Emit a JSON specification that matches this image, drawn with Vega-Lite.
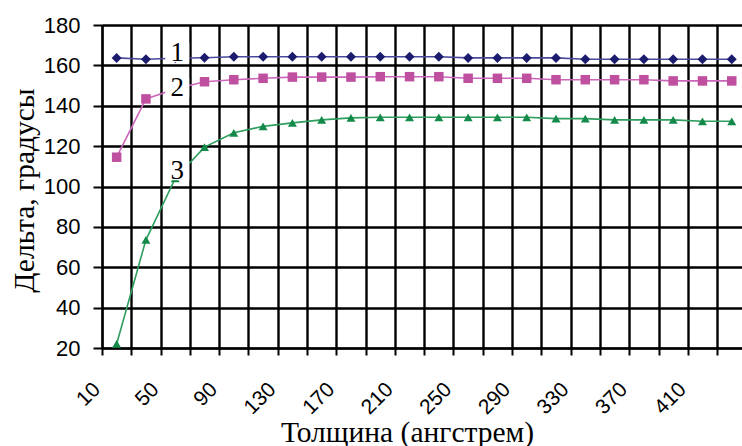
{
  "$schema": "https://vega.github.io/schema/vega-lite/v6.json",
  "width": 640,
  "height": 323,
  "autosize": "none",
  "padding": {"left": 102, "top": 25, "right": 0, "bottom": 98},
  "background": "white",
  "config": {"view": {"stroke": null}, "axis": {"gridOpacity": 1, "gridWidth": 2.4, "gridColor": "#000"}},
  "datasets": {
    "series": [
      {"s": "1", "x": 10, "v": 163.7}, {"s": "1", "x": 30, "v": 163.0}, {"s": "1", "x": 50, "v": 163.5},
      {"s": "1", "x": 70, "v": 163.8}, {"s": "1", "x": 90, "v": 164.3}, {"s": "1", "x": 110, "v": 164.3},
      {"s": "1", "x": 130, "v": 164.3}, {"s": "1", "x": 150, "v": 164.3}, {"s": "1", "x": 170, "v": 164.3},
      {"s": "1", "x": 190, "v": 164.3}, {"s": "1", "x": 210, "v": 164.3}, {"s": "1", "x": 230, "v": 164.3},
      {"s": "1", "x": 250, "v": 163.7}, {"s": "1", "x": 270, "v": 163.7}, {"s": "1", "x": 290, "v": 163.7},
      {"s": "1", "x": 310, "v": 163.7}, {"s": "1", "x": 330, "v": 163.0}, {"s": "1", "x": 350, "v": 163.0},
      {"s": "1", "x": 370, "v": 163.0}, {"s": "1", "x": 390, "v": 163.0}, {"s": "1", "x": 410, "v": 163.0},
      {"s": "1", "x": 430, "v": 163.0},
      {"s": "2", "x": 10, "v": 114.5}, {"s": "2", "x": 30, "v": 143.4}, {"s": "2", "x": 50, "v": 148.3},
      {"s": "2", "x": 70, "v": 151.9}, {"s": "2", "x": 90, "v": 152.9}, {"s": "2", "x": 110, "v": 153.6},
      {"s": "2", "x": 130, "v": 154.2}, {"s": "2", "x": 150, "v": 154.2}, {"s": "2", "x": 170, "v": 154.2},
      {"s": "2", "x": 190, "v": 154.4}, {"s": "2", "x": 210, "v": 154.4}, {"s": "2", "x": 230, "v": 154.4},
      {"s": "2", "x": 250, "v": 153.6}, {"s": "2", "x": 270, "v": 153.6}, {"s": "2", "x": 290, "v": 153.6},
      {"s": "2", "x": 310, "v": 152.9}, {"s": "2", "x": 330, "v": 152.9}, {"s": "2", "x": 350, "v": 152.9},
      {"s": "2", "x": 370, "v": 152.9}, {"s": "2", "x": 390, "v": 152.3}, {"s": "2", "x": 410, "v": 152.3},
      {"s": "2", "x": 430, "v": 152.3},
      {"s": "3", "x": 10, "v": 22.0}, {"s": "3", "x": 30, "v": 73.6}, {"s": "3", "x": 50, "v": 104.0},
      {"s": "3", "x": 70, "v": 119.5}, {"s": "3", "x": 90, "v": 126.6}, {"s": "3", "x": 110, "v": 129.8},
      {"s": "3", "x": 130, "v": 131.5}, {"s": "3", "x": 150, "v": 133.0}, {"s": "3", "x": 170, "v": 134.0},
      {"s": "3", "x": 190, "v": 134.3}, {"s": "3", "x": 210, "v": 134.3}, {"s": "3", "x": 230, "v": 134.3},
      {"s": "3", "x": 250, "v": 134.3}, {"s": "3", "x": 270, "v": 134.3}, {"s": "3", "x": 290, "v": 134.3},
      {"s": "3", "x": 310, "v": 133.6}, {"s": "3", "x": 330, "v": 133.6}, {"s": "3", "x": 350, "v": 133.0},
      {"s": "3", "x": 370, "v": 133.0}, {"s": "3", "x": 390, "v": 133.0}, {"s": "3", "x": 410, "v": 132.3},
      {"s": "3", "x": 430, "v": 132.3}
    ],
    "labels": [
      {"s": "1", "x": 50, "v": 166.3},
      {"s": "2", "x": 50, "v": 149.0},
      {"s": "3", "x": 50, "v": 107.9}
    ]
  },
  "encoding": {
    "x": {
      "field": "x", "type": "quantitative",
      "scale": {"domain": [0, 437], "nice": false, "zero": false},
      "axis": {
        "title": "Толщина (ангстрем)",
        "values": [0, 10, 20, 30, 40, 50, 60, 70, 80, 90, 100, 110, 120, 130, 140, 150, 160, 170, 180, 190, 200, 210, 220, 230, 240, 250, 260, 270, 280, 290, 300, 310, 320, 330, 340, 350, 360, 370, 380, 390, 400, 410, 420],
        "labelExpr": "datum.value % 40 == 10 ? datum.label : ''",
        "labelAngle": -45, "labelAlign": "right", "labelBaseline": "middle",
        "labelOffset": -20, "labelPadding": 31,
        "labelFont": "Liberation Sans", "labelFontSize": 21, "labelColor": "#000",
        "labelOverlap": false, "labelFlush": false, "labelBound": false,
        "grid": true, "gridWidth": 2.4, "gridOpacity": 1,
        "gridColor": {"condition": {"test": "datum.value % 20 == 0", "value": "#000000"}, "value": "rgba(0,0,0,0)"},
        "ticks": true, "tickSize": 7, "tickWidth": 2,
        "tickColor": {"condition": {"test": "datum.value % 20 == 0", "value": "#000000"}, "value": "rgba(0,0,0,0)"},
        "domainColor": "#000", "domainWidth": 2,
        "titleFont": "Liberation Serif", "titleFontSize": 29.5, "titleFontWeight": "normal", "titleColor": "#000",
        "titleX": 305, "titleY": 93, "titleBaseline": "alphabetic", "titleAlign": "center"
      }
    },
    "y": {
      "field": "v", "type": "quantitative",
      "scale": {"domain": [20, 180], "nice": false, "zero": false},
      "axis": {
        "title": "Дельта, градусы",
        "values": [20, 40, 60, 80, 100, 120, 140, 160, 180],
        "labelFont": "Liberation Sans", "labelFontSize": 22, "labelColor": "#000", "labelPadding": 13,
        "grid": true, "gridColor": "#000000", "gridWidth": 2.4, "gridOpacity": 1,
        "tickSize": 9, "tickColor": "#000", "tickWidth": 2,
        "domainColor": "#000", "domainWidth": 2,
        "titleFont": "Liberation Serif", "titleFontSize": 29.5, "titleFontWeight": "normal", "titleColor": "#000",
        "titleX": -69, "titleY": 165, "titleAngle": -90, "titleBaseline": "alphabetic", "titleAlign": "center"
      }
    }
  },
  "layer": [
    {
      "data": {"name": "series"},
      "mark": {"type": "line", "strokeWidth": 1.6},
      "encoding": {
        "stroke": {"field": "s", "type": "nominal", "scale": {"domain": ["1", "2", "3"], "range": ["#4a4a9c", "#cc66bb", "#2e9e5e"]}, "legend": null}
      }
    },
    {
      "data": {"name": "series"},
      "mark": {"type": "point", "filled": true, "opacity": 1},
      "encoding": {
        "fill": {"field": "s", "type": "nominal", "scale": {"domain": ["1", "2", "3"], "range": ["#1c1c6e", "#bf4f9f", "#138a4a"]}, "legend": null},
        "shape": {"field": "s", "type": "nominal", "scale": {"domain": ["1", "2", "3"], "range": ["diamond", "square", "triangle-up"]}, "legend": null},
        "size": {"field": "s", "type": "nominal", "scale": {"domain": ["1", "2", "3"], "range": [100, 80, 100]}, "legend": null}
      }
    },
    {
      "data": {"name": "labels"},
      "mark": {"type": "point", "filled": true, "fill": "white", "opacity": 1, "size": 576, "shape": "M-1,-0.8H1V0.8H-1Z", "xOffset": 2}
    },
    {
      "data": {"name": "labels"},
      "mark": {"type": "text", "font": "Liberation Serif", "fontSize": 27, "color": "#000", "align": "center", "baseline": "middle", "dx": 2},
      "encoding": {"text": {"field": "s", "type": "nominal"}}
    }
  ]
}
